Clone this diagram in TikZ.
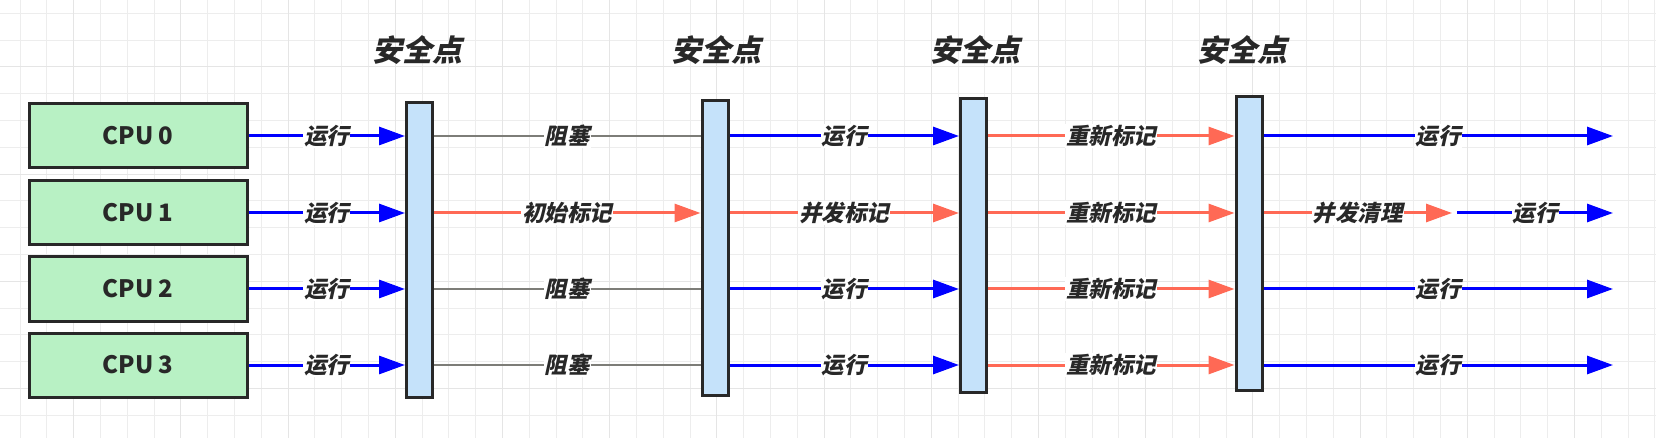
\documentclass[tikz,border=0pt]{standalone}
\usepackage{fontspec}
\newfontfamily\cjkup{Noto Sans CJK SC}
\newfontfamily\cjkit{Noto Sans CJK SC}[FakeSlant=0.22]
\usetikzlibrary{arrows.meta,positioning}
\definecolor{cpugreen}{RGB}{184,241,196}
\definecolor{safeblue}{RGB}{197,226,250}
\definecolor{framegray}{RGB}{40,40,40}
\definecolor{runblue}{RGB}{0,0,255}
\definecolor{markred}{RGB}{255,105,85}
\definecolor{waitgray}{RGB}{125,125,120}
\definecolor{gridminor}{RGB}{237,237,237}
\definecolor{gridmajor}{RGB}{229,229,229}

\begin{document}
\begin{tikzpicture}[x=1pt,y=-1pt,
  cpu/.style={rectangle,draw=framegray,line width=3pt,fill=cpugreen,minimum width=218pt,minimum height=64pt,inner sep=0pt,text=framegray,font=\cjkup\bfseries\fontsize{24}{24}\selectfont},
  safepoint/.style={rectangle,draw=framegray,line width=3pt,fill=safeblue,minimum width=26pt,inner sep=0pt},
  title/.style={text=framegray,font=\cjkit\bfseries\fontsize{30}{30}\selectfont},
  phase/.style={fill=white,inner sep=1pt,text=framegray,font=\cjkit\bfseries\fontsize{22.5}{22.5}\selectfont},
  run/.style={draw=runblue,line width=3pt,-{Triangle[length=26pt,width=18pt]}},
  remark/.style={draw=markred,line width=3pt,-{Triangle[length=26pt,width=18pt]}},
  blocked/.style={draw=waitgray,line width=2.2pt},
  gridline/.style={draw=gridminor,line width=1pt},
  gridbold/.style={draw=gridmajor,line width=1pt}]

% background grid
\fill[white] (0,0) rectangle (1670,438);
\useasboundingbox (0,0) rectangle (1670,438);
\foreach \i in {0,...,61} {\draw[gridline] (20+26.8*\i,0) -- (20+26.8*\i,438);}
\foreach \j in {0,...,15} {\draw[gridline] (0,13.3+26.8*\j) -- (1656,13.3+26.8*\j);}
\foreach \i in {2,6,...,58} {\draw[gridbold] (20+26.8*\i,0) -- (20+26.8*\i,438);}
\foreach \j in {2,6,10,14} {\draw[gridbold] (0,13.3+26.8*\j) -- (1656,13.3+26.8*\j);}

% cpus
\node (c0) [cpu] at (138,136) {CPU 0};
\node (c1) [cpu] at (138,213) {CPU 1};
\node (c2) [cpu] at (138,289) {CPU 2};
\node (c3) [cpu] at (138,365) {CPU 3};

% safe points
\node (sp1) [safepoint,minimum height=294pt] at (419.5,250) {};
\node (sp2) [safepoint,minimum height=294pt] at (715,248) {};
\node (sp3) [safepoint,minimum height=293pt] at (973.5,245.5) {};
\node (sp4) [safepoint,minimum height=293pt] at (1249,243.5) {};

\node (l1) [title] at (417,50) {安全点};
\node (l2) [title] at (716,50) {安全点};
\node (l3) [title] at (975,50) {安全点};
\node (l4) [title] at (1242,50) {安全点};

\coordinate (e0) at (1613,136);
\coordinate (s1) at (1452,213);
\coordinate (t1) at (1457,213);
\coordinate (e1) at (1613,213);
\coordinate (e2) at (1613,289);
\coordinate (e3) at (1613,365);

% row 0
\draw [run] (c0) -- node[phase]{运行} (sp1.west |- c0);
\draw [blocked] (sp1.east |- c0) -- node[phase]{阻塞} (sp2.west |- c0);
\draw [run] (sp2.east |- c0) -- node[phase]{运行} (sp3.west |- c0);
\draw [remark] (sp3.east |- c0) -- node[phase]{重新标记} (sp4.west |- c0);
\draw [run] (sp4.east |- c0) -- node[phase]{运行} (e0);

% row 1
\draw [run] (c1) -- node[phase]{运行} (sp1.west |- c1);
\draw [remark] (sp1.east |- c1) -- node[phase]{初始标记} (sp2.west |- c1);
\draw [remark] (sp2.east |- c1) -- node[phase]{并发标记} (sp3.west |- c1);
\draw [remark] (sp3.east |- c1) -- node[phase]{重新标记} (sp4.west |- c1);
\draw [remark] (sp4.east |- c1) -- node[phase]{并发清理} (s1);
\draw [run] (t1) -- node[phase]{运行} (e1);

% row 2
\draw [run] (c2) -- node[phase]{运行} (sp1.west |- c2);
\draw [blocked] (sp1.east |- c2) -- node[phase]{阻塞} (sp2.west |- c2);
\draw [run] (sp2.east |- c2) -- node[phase]{运行} (sp3.west |- c2);
\draw [remark] (sp3.east |- c2) -- node[phase]{重新标记} (sp4.west |- c2);
\draw [run] (sp4.east |- c2) -- node[phase]{运行} (e2);

% row 3
\draw [run] (c3) -- node[phase]{运行} (sp1.west |- c3);
\draw [blocked] (sp1.east |- c3) -- node[phase]{阻塞} (sp2.west |- c3);
\draw [run] (sp2.east |- c3) -- node[phase]{运行} (sp3.west |- c3);
\draw [remark] (sp3.east |- c3) -- node[phase]{重新标记} (sp4.west |- c3);
\draw [run] (sp4.east |- c3) -- node[phase]{运行} (e3);
\end{tikzpicture}
\end{document}
